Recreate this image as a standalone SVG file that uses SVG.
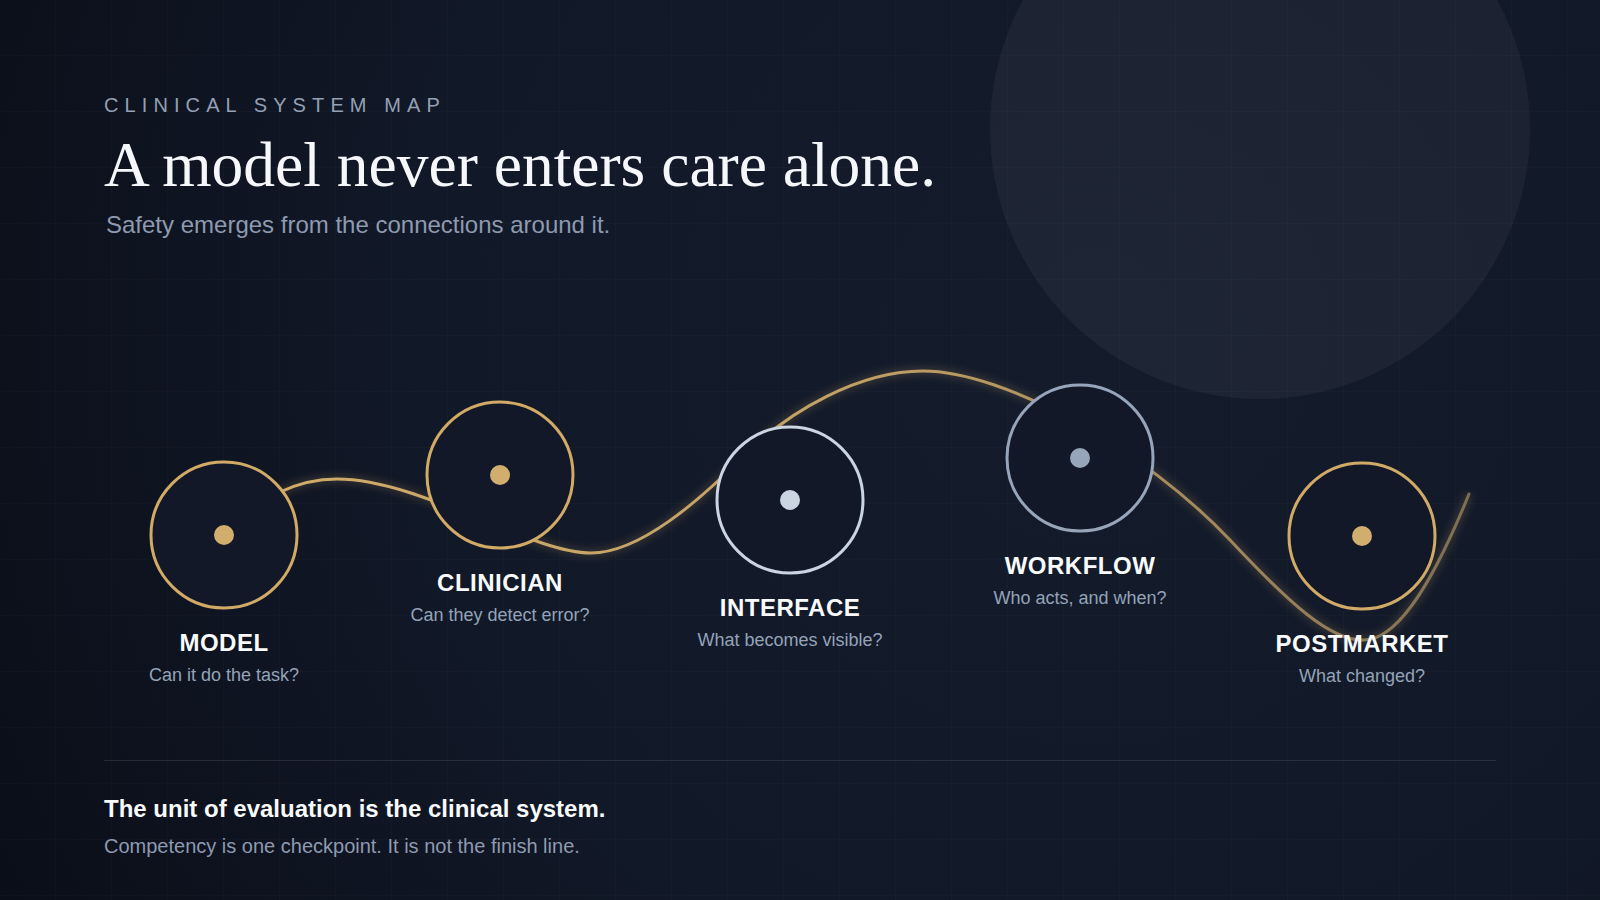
<svg xmlns="http://www.w3.org/2000/svg" width="1600" height="900" viewBox="0 0 1600 900">
  <defs>
    <radialGradient id="bg" cx="1100" cy="330" r="1250" gradientUnits="userSpaceOnUse">
      <stop offset="0" stop-color="#141c2c"/>
      <stop offset="0.55" stop-color="#111827"/>
      <stop offset="1" stop-color="#0a0e18"/>
    </radialGradient>
    <pattern id="grid" width="56" height="56" patternUnits="userSpaceOnUse">
      <path d="M56 0 V56 M0 56 H56" fill="none" stroke="#ffffff" stroke-opacity="0.028" stroke-width="1"/>
    </pattern>
    <linearGradient id="lineGrad" x1="200" y1="0" x2="1470" y2="0" gradientUnits="userSpaceOnUse">
      <stop offset="0" stop-color="#d2ad6b" stop-opacity="1"/>
      <stop offset="0.5" stop-color="#caa767" stop-opacity="0.95"/>
      <stop offset="0.8" stop-color="#c09f66" stop-opacity="0.8"/>
      <stop offset="1" stop-color="#b49a6c" stop-opacity="0.6"/>
    </linearGradient>
    <filter id="glow" x="-10%" y="-30%" width="120%" height="160%">
      <feGaussianBlur stdDeviation="3.5"/>
    </filter>
  </defs>
  <style>
    .sans { font-family: "Liberation Sans", Arial, sans-serif; }
    .node-ring { fill: #121827; stroke-width: 3; }
    .gold { stroke: #d1aa66; }
    .gold-dot { fill: #d1ae6e; }
    .label { font-family: "Liberation Sans", Arial, sans-serif; font-weight: 700; font-size: 24px; fill: #f8fafc; text-anchor: middle; letter-spacing: 0.5px; }
    .sub { font-family: "Liberation Sans", Arial, sans-serif; font-size: 18px; fill: #94a3b8; text-anchor: middle; }
  </style>

  <rect width="1600" height="900" fill="url(#bg)"/>
  <rect width="1600" height="900" fill="url(#grid)"/>
  <circle cx="1260" cy="129" r="270" fill="#ffffff" fill-opacity="0.045"/>

  <g id="header">
    <text x="104" y="112" class="sans" font-size="20" letter-spacing="6.1" fill="#94a0b4">CLINICAL SYSTEM MAP</text>
    <text x="104" y="186" font-family="'Liberation Serif', 'Times New Roman', serif" font-size="63.5" fill="#f5f7fa">A model never enters care alone.</text>
    <text x="106" y="233" class="sans" font-size="24" fill="#8e9ab0">Safety emerges from the connections around it.</text>
  </g>

  <g id="connectors">
    <path d="M224 535 C260 495 300 479 337 479 C420 479 530 553 591 553 C640 553 700 500 745 455 C790 410 860 371 923 371 C1005 371 1145 450 1230 540 C1290 604 1330 640 1362 640 C1395 642 1430 590 1469 494" fill="none" stroke="#d1aa66" stroke-opacity="0.16" stroke-width="9" filter="url(#glow)"/>
    <path d="M224 535 C260 495 300 479 337 479 C420 479 530 553 591 553 C640 553 700 500 745 455 C790 410 860 371 923 371 C1005 371 1145 450 1230 540 C1290 604 1330 640 1362 640 C1395 642 1430 590 1469 494" fill="none" stroke="url(#lineGrad)" stroke-width="3" stroke-linecap="round"/>
  </g>

  <g id="node-model">
    <circle cx="224" cy="535" r="73" class="node-ring gold"/>
    <circle cx="224" cy="535" r="10" class="gold-dot"/>
    <text x="224" y="651" class="label">MODEL</text>
    <text x="224" y="681" class="sub">Can it do the task?</text>
  </g>

  <g id="node-clinician">
    <circle cx="500" cy="475" r="73" class="node-ring gold"/>
    <circle cx="500" cy="475" r="10" class="gold-dot"/>
    <text x="500" y="591" class="label">CLINICIAN</text>
    <text x="500" y="621" class="sub">Can they detect error?</text>
  </g>

  <g id="node-interface">
    <circle cx="790" cy="500" r="73" class="node-ring" stroke="#cbd5e1"/>
    <circle cx="790" cy="500" r="10" fill="#cbd5e1"/>
    <text x="790" y="616" class="label">INTERFACE</text>
    <text x="790" y="646" class="sub">What becomes visible?</text>
  </g>

  <g id="node-workflow">
    <circle cx="1080" cy="458" r="73" class="node-ring" stroke="#97a5bb"/>
    <circle cx="1080" cy="458" r="10" fill="#97a5bb"/>
    <text x="1080" y="574" class="label">WORKFLOW</text>
    <text x="1080" y="604" class="sub">Who acts, and when?</text>
  </g>

  <g id="node-postmarket">
    <circle cx="1362" cy="536" r="73" class="node-ring gold"/>
    <circle cx="1362" cy="536" r="10" class="gold-dot"/>
    <text x="1362" y="652" class="label">POSTMARKET</text>
    <text x="1362" y="682" class="sub">What changed?</text>
  </g>

  <g id="footer">
    <line x1="104" y1="760.5" x2="1496" y2="760.5" stroke="#ffffff" stroke-opacity="0.1" stroke-width="1"/>
    <text x="104" y="817" class="sans" font-size="24" font-weight="700" fill="#f8fafc">The unit of evaluation is the clinical system.</text>
    <text x="104" y="853" class="sans" font-size="20" fill="#8e9ab0">Competency is one checkpoint. It is not the finish line.</text>
  </g>
</svg>
